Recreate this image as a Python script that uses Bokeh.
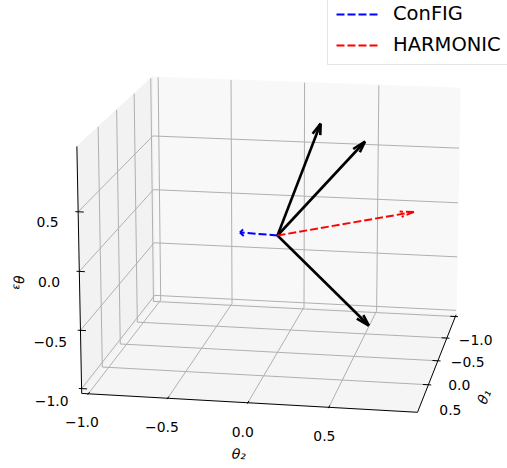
import numpy as np
from bokeh.plotting import figure
from bokeh.models import Range1d, Legend, LegendItem
from bokeh.embed import file_html
from bokeh.resources import INLINE
from bokeh.core.properties import value

# ---------------- data ----------------
grad_theta1 = [-0.10, -0.10, -0.10]      # three task gradients (black)
grad_theta2 = [0.26, 0.545, 0.58]
grad_theta3 = [0.96, 0.82, -0.80]
config_vec = [-1.0, -0.435, -0.35]       # ConFIG direction (blue)
harmonic_vec = [0.0, 0.875, 0.26]        # HARMONIC direction (red)
legend_labels = ["ConFIG", "HARMONIC"]
tick_values = [-1.0, -0.5, 0.0, 0.5]
tick_labels = ["\u22121.0", "\u22120.5", "0.0", "0.5"]
axis_titles = ["\u03b8\u2081", "\u03b8\u2082", "\u03b8\u2083"]
axis_min, axis_max = -1.0, 1.0

# ---------------- view (matplotlib-like 3D projection) ----------------
ELEV, AZIM, DIST = 15.0, 10.0, 10.0
SCALE = 2740.0
ORIGIN_PX = (277.0, 235.0)
W, H = 507, 468
ARROW_RATIO = 0.1
FONT = "DejaVu Sans"

BOX = np.array([4.0, 4.0, 3.0])
BOX = BOX * 1.8294640721620434 / np.linalg.norm(BOX)
R = 0.5 * BOX
e, a = np.deg2rad(ELEV), np.deg2rad(AZIM)
wv = np.array([np.cos(e) * np.cos(a), np.cos(e) * np.sin(a), np.sin(e)])
EYE = R + DIST * wv
uv = np.cross([0.0, 0.0, 1.0], wv)
uv /= np.linalg.norm(uv)
vv = np.cross(wv, uv)


def project(pts):
    pts = np.atleast_2d(np.asarray(pts, dtype=float))
    n = (pts - axis_min) / (axis_max - axis_min) * BOX
    d = n - EYE
    depth = -(d @ wv)
    return (d @ uv) / depth, (d @ vv) / depth


PB = axis_max + (axis_max - axis_min) / 48.0   # pane bound
NB = axis_min - (axis_max - axis_min) / 48.0

p = figure(width=W, height=H, output_backend="svg", toolbar_location=None,
           x_axis_type=None, y_axis_type=None, min_border=0,
           x_range=Range1d(-ORIGIN_PX[0] / SCALE, (W - ORIGIN_PX[0]) / SCALE),
           y_range=Range1d((ORIGIN_PX[1] - H) / SCALE, ORIGIN_PX[1] / SCALE))
p.outline_line_color = None
p.background_fill_color = "white"
p.border_fill_color = "white"

# panes
panes = [
    ([(NB, NB, NB), (NB, PB, NB), (NB, PB, PB), (NB, NB, PB)], "#f8f8f8"),  # back (theta1 min)
    ([(NB, NB, NB), (PB, NB, NB), (PB, NB, PB), (NB, NB, PB)], "#f2f2f2"),  # left (theta2 min)
    ([(NB, NB, NB), (PB, NB, NB), (PB, PB, NB), (NB, PB, NB)], "#f5f5f5"),  # floor
]
for corners, col in panes:
    sx, sy = project(corners)
    p.patch(list(sx), list(sy), fill_color=col, line_color=col, line_width=1)

# grid lines
gxs, gys = [], []
for t in tick_values:
    for poly in ([(t, PB, NB), (t, NB, NB), (t, NB, PB)],
                 [(NB, t, PB), (NB, t, NB), (PB, t, NB)],
                 [(PB, NB, t), (NB, NB, t), (NB, PB, t)]):
        sx, sy = project(poly)
        gxs.append(list(sx)); gys.append(list(sy))
p.multi_line(gxs, gys, line_color="#b0b0b0", line_width=1.0)

# axis lines
edges = [[(NB, PB, NB), (PB, PB, NB)],   # theta1 axis
         [(PB, NB, NB), (PB, PB, NB)],   # theta2 axis
         [(PB, NB, NB), (PB, NB, PB)]]   # theta3 axis
exs, eys = [], []
for ed in edges:
    sx, sy = project(ed)
    exs.append(list(sx)); eys.append(list(sy))
p.multi_line(exs, eys, line_color="black", line_width=1.0)

# tick marks
OUT, IN = 0.0174, 0.0347
txs, tys = [], []
for t in tick_values:
    for seg in ([(t, PB + OUT, NB), (t, PB - IN, NB)],
                [(PB + OUT, t, NB), (PB - IN, t, NB)],
                [(PB, NB - OUT, t), (PB, NB + IN, t)]):
        sx, sy = project(seg)
        txs.append(list(sx)); tys.append(list(sy))
p.multi_line(txs, tys, line_color="black", line_width=1.0)

# tick labels (moved outward from the box)
lab_pts, lab_txt = [], []
for t, lab in zip(tick_values, tick_labels):
    lab_pts += [(t, PB + 0.14, NB - 0.21),      # theta1 axis
                (PB + 0.17, t, NB - 0.17),      # theta2 axis
                (PB + 0.27, NB - 0.12, t)]      # theta3 axis
    lab_txt += [lab, lab, lab]
lx, ly = project(lab_pts)
p.text(x=list(lx), y=list(ly), text=lab_txt, text_font=value(FONT),
       text_font_size="13.9px", text_align="center", text_baseline="middle",
       text_color="black")


def norm_angle(deg):
    deg = (deg + 180) % 180
    if deg > 90:
        deg -= 180
    return deg


# axis titles
DL = 0.30
title_pts = [(0.0, PB + DL, NB - DL), (PB + DL, 0.0, NB - DL), (PB + DL, NB - DL, 0.0)]
tx, ty = project(title_pts)
angles = []
for ed in edges:
    sx, sy = project(ed)
    angles.append(np.deg2rad(norm_angle(np.rad2deg(np.arctan2(sy[1] - sy[0], sx[1] - sx[0])))))
p.text(x=list(tx), y=list(ty), text=axis_titles, angle=angles, text_font=value(FONT),
       text_font_style="italic", text_font_size="13.9px", text_align="center",
       text_baseline="middle", text_color="black")


# arrows (matplotlib quiver-style heads)
def arrow_geometry(vec):
    vec = np.asarray(vec, dtype=float)
    tip = vec
    nxy = np.hypot(vec[0], vec[1])
    xp, yp = (vec[1] / nxy, -vec[0] / nxy) if nxy > 0 else (0.0, 1.0)
    heads = []
    for ang in (15.0, -15.0):
        c, s = np.cos(np.deg2rad(ang)), np.sin(np.deg2rad(ang))
        rot = np.array([[c + xp * xp * (1 - c), xp * yp * (1 - c), yp * s],
                        [xp * yp * (1 - c), c + yp * yp * (1 - c), -xp * s],
                        [-yp * s, xp * s, c]])
        heads.append([tip, tip - ARROW_RATIO * (rot @ vec)])
    return [np.zeros(3), tip], heads


for g in zip(grad_theta1, grad_theta2, grad_theta3):
    shaft, heads = arrow_geometry(g)
    xs, ys = [], []
    for seg in [shaft] + heads:
        sx, sy = project(seg)
        xs.append(list(sx)); ys.append(list(sy))
    p.multi_line(xs, ys, line_color="black", line_width=2.6, line_cap="butt")

legend_items = []
for vec, col, lab in ((config_vec, "#0000ff", legend_labels[0]),
                      (harmonic_vec, "#ff0000", legend_labels[1])):
    shaft, heads = arrow_geometry(vec)
    sx, sy = project(shaft)
    r = p.line(list(sx), list(sy), line_color=col, line_width=2.0, line_dash="8 3")
    hx, hy = [], []
    for seg in heads:
        a_, b_ = project(seg)
        hx.append(list(a_)); hy.append(list(b_))
    p.multi_line(hx, hy, line_color=col, line_width=2.0, line_dash="8 3")
    legend_items.append(LegendItem(label=lab, renderers=[r]))

legend = Legend(items=legend_items, location=(327, 403), margin=0, padding=8,
                spacing=8, glyph_width=42, glyph_height=20, label_height=20,
                label_standoff=15, label_text_font=FONT, label_text_font_size="19.5px",
                label_text_color="black",
                border_line_color="#cccccc", border_line_width=1,
                background_fill_color="white", background_fill_alpha=0.8)
p.add_layout(legend)

open("out.html", "w").write(file_html(p, INLINE))
